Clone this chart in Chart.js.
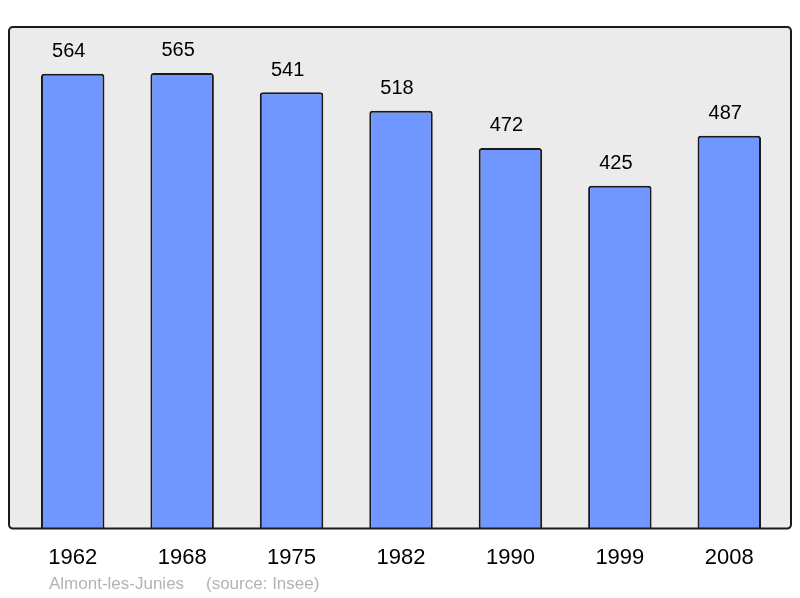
<!DOCTYPE html>
<html>
<head>
<meta charset="utf-8">
<script src="https://cdn.jsdelivr.net/npm/chart.js@4"></script>
<style>
  html, body { margin: 0; padding: 0; background: #ffffff; }
  #wrap { width: 800px; height: 598px; }
</style>
</head>
<body>
<div id="wrap"><canvas id="popChart" width="800" height="598"></canvas></div>
<script>
const years = ['1962', '1968', '1975', '1982', '1990', '1999', '2008'];
const population = [564, 565, 541, 518, 472, 425, 487];
const commune = 'Almont-les-Junies';
const source = '(source: Insee)';

// grey panel behind the bars, border drawn after the bars
const panelPlugin = {
    id: 'panel',
    beforeDatasetsDraw(chart) {
        const ctx = chart.ctx;
        const a = chart.chartArea;
        ctx.save();
        ctx.fillStyle = '#ebebeb';
        ctx.beginPath();
        ctx.roundRect(a.left - 9, a.top, a.right - a.left + 16, a.bottom - a.top, 4);
        ctx.fill();
        ctx.restore();
    },
    afterDatasetsDraw(chart) {
        const ctx = chart.ctx;
        const a = chart.chartArea;
        ctx.save();
        ctx.strokeStyle = '#1a1a1a';
        ctx.lineWidth = 2;
        ctx.beginPath();
        ctx.roundRect(a.left - 9, a.top, a.right - a.left + 16, a.bottom - a.top, 4);
        ctx.stroke();

        // values above bars (slightly left of centre, as in the original)
        ctx.fillStyle = '#000000';
        ctx.font = '20px "Liberation Sans", Arial, sans-serif';
        ctx.textAlign = 'center';
        ctx.textBaseline = 'middle';
        chart.getDatasetMeta(0).data.forEach((bar, i) => {
            ctx.fillText(String(population[i]), bar.x - 4, bar.y - 22);
        });

        // footer
        ctx.fillStyle = '#b3b3b3';
        ctx.font = '17px "Liberation Sans", Arial, sans-serif';
        ctx.textAlign = 'left';
        ctx.fillText(commune, 49, 584);
        ctx.fillText(source, 206, 584);
        ctx.restore();
    }
};

const ctx = document.getElementById('popChart').getContext('2d');
new Chart(ctx, {
    type: 'bar',
    data: {
        labels: years,
        datasets: [{
            data: population,
            backgroundColor: '#7096ff',
            borderColor: '#1a1a1a',
            borderWidth: 2,
            borderRadius: 3,
            borderSkipped: 'bottom',
            categoryPercentage: 1,
            barPercentage: 0.58
        }]
    },
    options: {
        responsive: false,
        animation: false,
        layout: {
            padding: { left: 18, right: 16, top: 27, bottom: 11 }
        },
        plugins: {
            legend: { display: false },
            tooltip: { enabled: false }
        },
        scales: {
            y: {
                display: false,
                min: 0,
                max: 622
            },
            x: {
                grid: { display: false, drawTicks: false },
                border: { display: false },
                ticks: {
                    color: '#000000',
                    padding: 16,
                    font: { family: '"Liberation Sans", Arial, sans-serif', size: 22 }
                }
            }
        }
    },
    plugins: [panelPlugin]
});
</script>
</body>
</html>
